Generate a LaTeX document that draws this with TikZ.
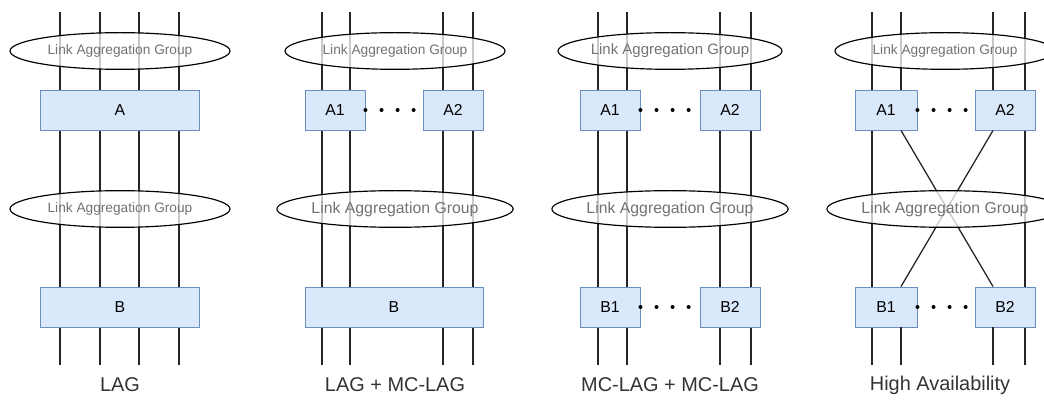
\documentclass[tikz,border=0pt]{standalone}
\usepackage{fontspec}
\setmainfont{Liberation Sans}
\usetikzlibrary{shapes.geometric}
\definecolor{boxfill}{HTML}{DAE8FC}
\definecolor{boxline}{HTML}{6C8EBF}
\tikzset{bx/.append style={draw=boxline, fill=boxfill, minimum height=1.2cm, inner sep=0pt, line width=0.8pt, font=\fontsize{13.5}{15}\selectfont}}
\tikzset{lg/.append style={draw, ellipse, line width=1pt, fill=white, fill opacity=0.75, text opacity=1, text=black!55, minimum width=6.6cm, minimum height=1.1cm, inner sep=0pt, font=\fontsize{11.7}{13}\selectfont}}
\tikzset{lgb/.append style={lg, font=\fontsize{13.5}{15}\selectfont}}
\tikzset{ln/.append style={line width=1.1pt, black!85}}
\tikzset{dd/.append style={line width=3.4pt, line cap=round, dash pattern=on 0pt off 13.7pt}}
\tikzset{ttl/.append style={font=\fontsize{17}{19}\selectfont, text=black!80}}

\begin{document}
\begin{tikzpicture}[x=0.03cm, y=-0.03cm]
                \useasboundingbox (0,0) rectangle (1044,405);
                % links
                \foreach \x [count=\i] in {60,100,139,179} {
                    \coordinate (lagT\i) at (\x,12);
                    \coordinate (lagD\i) at (\x,365);
                    \draw[ln] (lagT\i) -- (lagD\i);
                }
                \foreach \x [count=\i] in {322,350,443,473} {
                    \coordinate (mixT\i) at (\x,12);
                    \coordinate (mixD\i) at (\x,365);
                    \draw[ln] (mixT\i) -- (mixD\i);
                }
                \foreach \x [count=\i] in {598,627,720,751} {
                    \coordinate (mclT\i) at (\x,12);
                    \coordinate (mclD\i) at (\x,365);
                    \draw[ln] (mclT\i) -- (mclD\i);
                }
                \foreach \x [count=\i] in {872,901,993,1025} {
                    \coordinate (haT\i) at (\x,12);
                    \coordinate (haD\i) at (\x,365);
                }
                % LAG
                \node[bx, minimum width=4.77cm] (lagA) at (120,110) {A};
                \node[bx, minimum width=4.77cm] (lagB) at (120,307) {B};
                \node[lg] (lagG1) at (120,51) {Link Aggregation Group};
                \node[lg] (lagG2) at (120,209) {Link Aggregation Group};
                \node[ttl] (lagL) at (120,385) {LAG};
                % LAG + MC-LAG
                \node[bx, minimum width=1.8cm] (mixA1) at (335,110) {A1};
                \node[bx, minimum width=1.8cm] (mixA2) at (453,110) {A2};
                \node[bx, minimum width=5.34cm] (mixB) at (394,307) {B};
                \node[lg] (mixG1) at (395,51) {Link Aggregation Group};
                \node[lgb] (mixG2) at (395,209) {Link Aggregation Group};
                \node[ttl] (mixL) at (395,385) {LAG + MC-LAG};
                \path (mixA1.east) edge[dd] (mixA2.west);
                % MC-LAG + MC-LAG
                \node[bx, minimum width=1.8cm] (mclA1) at (610,110) {A1};
                \node[bx, minimum width=1.8cm] (mclA2) at (730,110) {A2};
                \node[bx, minimum width=1.8cm] (mclB1) at (610,307) {B1};
                \node[bx, minimum width=1.8cm] (mclB2) at (730,307) {B2};
                \node[lg, font=\fontsize{12.8}{14}\selectfont] (mclG1) at (670,51) {Link Aggregation Group};
                \node[lgb] (mclG2) at (670,209) {Link Aggregation Group};
                \node[ttl] (mclL) at (670,385) {MC-LAG + MC-LAG};
                \path (mclA1.east) edge[dd] (mclA2.west);
                \path (mclB1.east) edge[dd] (mclB2.west);
                % High Availability
                \draw[ln] (haT1) -- (haD1);
                \draw[ln] (haT4) -- (haD4);
                \node[bx, minimum width=1.86cm] (haA1) at (886,110) {A1};
                \node[bx, minimum width=1.8cm] (haA2) at (1005,110) {A2};
                \node[bx, minimum width=1.86cm] (haB1) at (886,307) {B1};
                \node[bx, minimum width=1.8cm] (haB2) at (1005,307) {B2};
                \draw[ln] (haT2) -- (haT2 |- haA1.north);
                \draw[ln] (haT3) -- (haT3 |- haA2.north);
                \draw[ln] (haT2 |- haA1.south) -- (haD3 |- haB2.north);
                \draw[ln] (haT3 |- haA2.south) -- (haD2 |- haB1.north);
                \draw[ln] (haD2 |- haB1.south) -- (haD2);
                \draw[ln] (haD3 |- haB2.south) -- (haD3);
                \node[lg] (haG1) at (945,51) {Link Aggregation Group};
                \node[lgb] (haG2) at (945,209) {Link Aggregation Group};
                \node[ttl] (haL) at (940,385) {High Availability};
                \path (haA1.east) edge[dd] (haA2.west);
                \path (haB1.east) edge[dd] (haB2.west);
            \end{tikzpicture}
\end{document}
